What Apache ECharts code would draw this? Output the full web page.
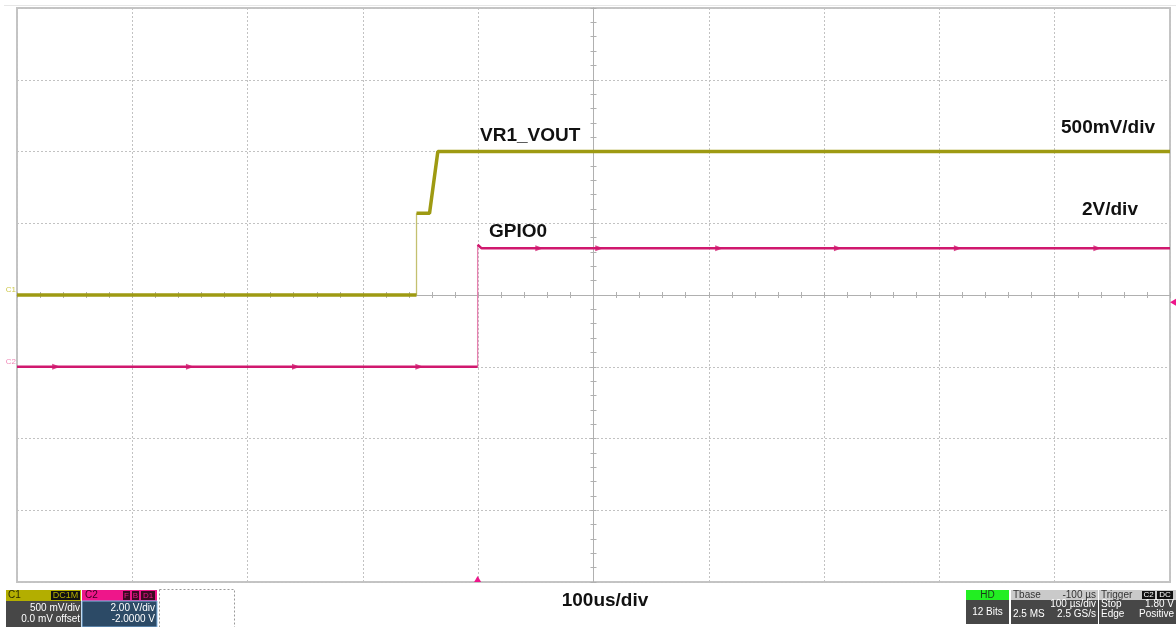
<!DOCTYPE html>
<html><head><meta charset="utf-8">
<script src="https://cdn.jsdelivr.net/npm/echarts@6/dist/echarts.min.js"></script>
<style>html,body{margin:0;padding:0;background:#fff;overflow:hidden}#chart{width:1176px;height:627px}</style>
</head><body><div id="chart"></div>
<script>
// ---- data (time in µs relative to screen centre, voltages in V) ----
const timeRange = [-500, 500];          // 10 div x 100 µs/div
const c1Range = [-2, 2];                // 500 mV/div, 0 mV offset
const c2Range = [-6, 10];               // 2 V/div, -2 V offset
const c1Time = [-500, -153.5, -153.5, -142.2, -135.0, 500];
const c1Volt = [0, 0, 0.57, 0.57, 1.0, 1.0];
const c2Time = [-500, -100.5, -100.5, -97, 500];
const c2Volt = [0, 0, 3.4, 3.3, 3.3];
const c2GlitchTime = [-466, -350, -258, -151, -47, 5, 109, 212, 316, 437];
const c2GlitchVolt = [0, 0, 0, 0, 3.3, 3.3, 3.3, 3.3, 3.3, 3.3];
const trigTime = -100.5;
const trigLevel = 1.8;
const traceNames = ['VR1_VOUT', 'GPIO0'];
const scaleLabels = ['500mV/div', '2V/div', '100us/div'];

function splitTrace(t, v) {
  const thick = [], thin = [];
  for (let i = 0; i < t.length; i++) {
    thick.push([t[i], v[i]]);
    if (i + 1 < t.length && t[i + 1] === t[i]) {
      thick.push([t[i], null]);
      thin.push([t[i], v[i]], [t[i + 1], v[i + 1]], [t[i], null]);
    }
  }
  return { thick, thin };
}
const c1 = splitTrace(c1Time, c1Volt);
const c2 = splitTrace(c2Time, c2Volt);

const C1COL = '#9e9a12', C1EDGE = '#c4c070';
const C2COL = '#d0186e', C2EDGE = '#e681b0';
const GRIDCOL = '#c2c2c2', CENTERCOL = '#b0b0b0';
const FONT = '"Liberation Sans", Arial, sans-serif';

function xAx(inside, withSplit) {
  return {
    type: 'value', min: timeRange[0], max: timeRange[1], interval: 100, position: 'bottom',
    axisLine: { show: true, onZero: true, onZeroAxisIndex: 0, lineStyle: { color: CENTERCOL, width: 1 } },
    axisTick: { show: true, inside: inside, length: 3, lineStyle: { color: CENTERCOL } },
    minorTick: { show: true, splitNumber: 5, length: 3, lineStyle: { color: CENTERCOL } },
    axisLabel: { show: false },
    splitLine: { show: withSplit, lineStyle: { color: GRIDCOL, type: [2, 2], width: 1 } }
  };
}
function yAx(inside, withSplit) {
  return {
    type: 'value', min: c1Range[0], max: c1Range[1], interval: 0.5, position: 'left',
    axisLine: { show: true, onZero: true, onZeroAxisIndex: 0, lineStyle: { color: CENTERCOL, width: 1 } },
    axisTick: { show: true, inside: inside, length: 3, lineStyle: { color: CENTERCOL } },
    minorTick: { show: true, splitNumber: 5, length: 3, lineStyle: { color: CENTERCOL } },
    axisLabel: { show: false },
    splitLine: { show: withSplit, lineStyle: { color: GRIDCOL, type: [2, 2], width: 1 } }
  };
}

const chart = echarts.init(document.getElementById('chart'), null, { renderer: 'canvas' });

function T(text, x, y, opts) {
  opts = opts || {};
  const align = opts.align || 'left';
  return {
    type: 'text', x: x, y: y, z: 100,
    style: {
      text: text, fill: opts.fill || '#fff',
      font: (opts.weight || 'normal') + ' ' + (opts.size || 10) + 'px ' + FONT,
      align: align, verticalAlign: 'middle', textAlign: align, textVerticalAlign: 'middle'
    }
  };
}
function R(x, y, w, h, fill, extra) {
  return Object.assign({ type: 'rect', z: 90, shape: { x: x, y: y, width: w, height: h }, style: { fill: fill } }, extra || {});
}

const graphics = [
  { type: 'line', z: 1, shape: { x1: 4, y1: 5.5, x2: 1176, y2: 5.5 }, style: { stroke: '#e6e6e6', lineWidth: 1 } },
  // trace labels
  T(traceNames[0], 480, 136, { size: 19, weight: 'bold', fill: '#111' }),
  T(traceNames[1], 489, 232, { size: 19, weight: 'bold', fill: '#111' }),
  T(scaleLabels[0], 1061, 128, { size: 19, weight: 'bold', fill: '#111' }),
  T(scaleLabels[1], 1082, 210, { size: 19, weight: 'bold', fill: '#111' }),
  T(scaleLabels[2], 605, 601, { size: 19, weight: 'bold', fill: '#111', align: 'center' }),
  // C1 box
  R(6, 590, 75, 11, '#b3ae00'),
  T('C1', 8, 595.5, { fill: '#2a2a00', size: 10 }),
  R(51, 591, 29, 9, '#111'),
  T('DC1M', 65.5, 595.5, { fill: '#b3ae00', size: 9, align: 'center' }),
  R(6, 601, 75, 26, '#474747'),
  T('500 mV/div', 80, 608, { align: 'right' }),
  T('0.0 mV offset', 80, 619, { align: 'right' }),
  // C2 box
  R(82, 590, 75, 11, '#ee168a'),
  T('C2', 85, 595.5, { fill: '#3a0020', size: 10 }),
  R(123, 591, 7, 9, '#3a0a22'), T('F', 126.5, 595.5, { fill: '#ee168a', size: 8, align: 'center' }),
  R(132, 591, 7, 9, '#3a0a22'), T('B', 135.5, 595.5, { fill: '#ee168a', size: 8, align: 'center' }),
  R(141, 591, 14, 9, '#3a0a22'), T('D1', 148, 595.5, { fill: '#ee168a', size: 8, align: 'center' }),
  R(82, 601, 75, 26, '#2c4a66', { style: { fill: '#2c4a66', stroke: '#86b8e6', lineWidth: 1 } }),
  T('2.00 V/div', 155, 608, { align: 'right' }),
  T('-2.0000 V', 155, 619, { align: 'right' }),
  // empty dotted box
  { type: 'rect', z: 90, shape: { x: 159.5, y: 589.5, width: 75, height: 40 }, style: { fill: 'none', stroke: '#9a9a9a', lineWidth: 1, lineDash: [2, 2] } },
  // HD box
  R(966, 590, 43, 10, '#22ee22'),
  T('HD', 987.5, 595, { fill: '#1a3a1a', size: 10, align: 'center' }),
  R(966, 600, 43, 24, '#474747'),
  T('12 Bits', 987.5, 612, { align: 'center' }),
  // Tbase box
  R(1011, 590, 87, 10, '#cacaca'),
  T('Tbase', 1013, 595, { fill: '#333' }),
  T('-100 µs', 1096, 595, { fill: '#333', align: 'right' }),
  R(1011, 600, 87, 24, '#474747'),
  T('100 µs/div', 1096, 604, { align: 'right' }),
  T('2.5 MS', 1013, 614),
  T('2.5 GS/s', 1096, 614, { align: 'right' }),
  // Trigger box
  R(1099, 590, 77, 10, '#cacaca'),
  T('Trigger', 1101, 595, { fill: '#333' }),
  R(1142, 591, 13, 8, '#111'), T('C2', 1148.5, 595, { size: 8, align: 'center' }),
  R(1157, 591, 16, 8, '#111'), T('DC', 1165, 595, { size: 8, align: 'center' }),
  R(1099, 600, 77, 24, '#474747'),
  T('Stop', 1101, 604),
  T('1.80 V', 1174, 604, { align: 'right' }),
  T('Edge', 1101, 614),
  T('Positive', 1174, 614, { align: 'right' })
];

const option = {
  animation: false,
  backgroundColor: '#fff',
  grid: { left: 17, right: 6, top: 8, bottom: 45, show: true, borderColor: '#c4c4c4', borderWidth: 2, backgroundColor: 'transparent' },
  xAxis: [xAx(true, true), xAx(false, false)],
  yAxis: [yAx(true, true), yAx(false, false),
    { type: 'value', min: c2Range[0], max: c2Range[1], interval: 2, show: false, splitLine: { show: false } }],
  graphic: graphics,
  series: [
    { type: 'line', name: 'C1 edge', xAxisIndex: 0, yAxisIndex: 0, data: c1.thin, showSymbol: false, symbol: 'none',
      lineStyle: { color: C1EDGE, width: 1.3 }, z: 3 },
    { type: 'line', name: 'C1', xAxisIndex: 0, yAxisIndex: 0, data: c1.thick, showSymbol: false, symbol: 'none',
      lineStyle: { color: C1COL, width: 3.5 }, z: 4,
      markPoint: { symbol: 'rect', symbolSize: 0, silent: true,
        label: { show: true, position: 'left', distance: 1, offset: [0, -5], color: '#cdc84a', fontSize: 8, fontFamily: FONT, formatter: 'C1' },
        data: [{ coord: [c1Time[0], c1Volt[0]] }] } },
    { type: 'line', name: 'C2 edge', xAxisIndex: 0, yAxisIndex: 2, data: c2.thin, showSymbol: false, symbol: 'none',
      lineStyle: { color: C2EDGE, width: 1.3 }, z: 3 },
    { type: 'line', name: 'C2', xAxisIndex: 0, yAxisIndex: 2, data: c2.thick, showSymbol: false, symbol: 'none',
      lineStyle: { color: C2COL, width: 2.5 }, z: 5,
      markPoint: { silent: true,
        data: [
          { coord: [c2Time[0], c2Volt[0]], symbol: 'rect', symbolSize: 0,
            label: { show: true, position: 'left', distance: 1, offset: [0, -5], color: '#f08ab8', fontSize: 8, fontFamily: FONT, formatter: 'C2' } },
          { coord: [trigTime, c2Range[0]], symbol: 'triangle', symbolSize: [7, 6], symbolOffset: [0, -3],
            itemStyle: { color: '#ee168a' }, label: { show: false } },
          { coord: [timeRange[1], trigLevel], symbol: 'triangle', symbolRotate: 90, symbolSize: [7, 6], symbolOffset: [3, 0],
            itemStyle: { color: '#ee168a' }, label: { show: false } }
        ] } },
    { type: 'scatter', name: 'C2 glitches', xAxisIndex: 0, yAxisIndex: 2,
      data: c2GlitchTime.map((t, i) => [t, c2GlitchVolt[i]]),
      symbol: 'triangle', symbolRotate: -90, symbolSize: [6, 8], itemStyle: { color: C2COL }, z: 6 }
  ]
};
chart.setOption(option);
</script>
</body></html>
